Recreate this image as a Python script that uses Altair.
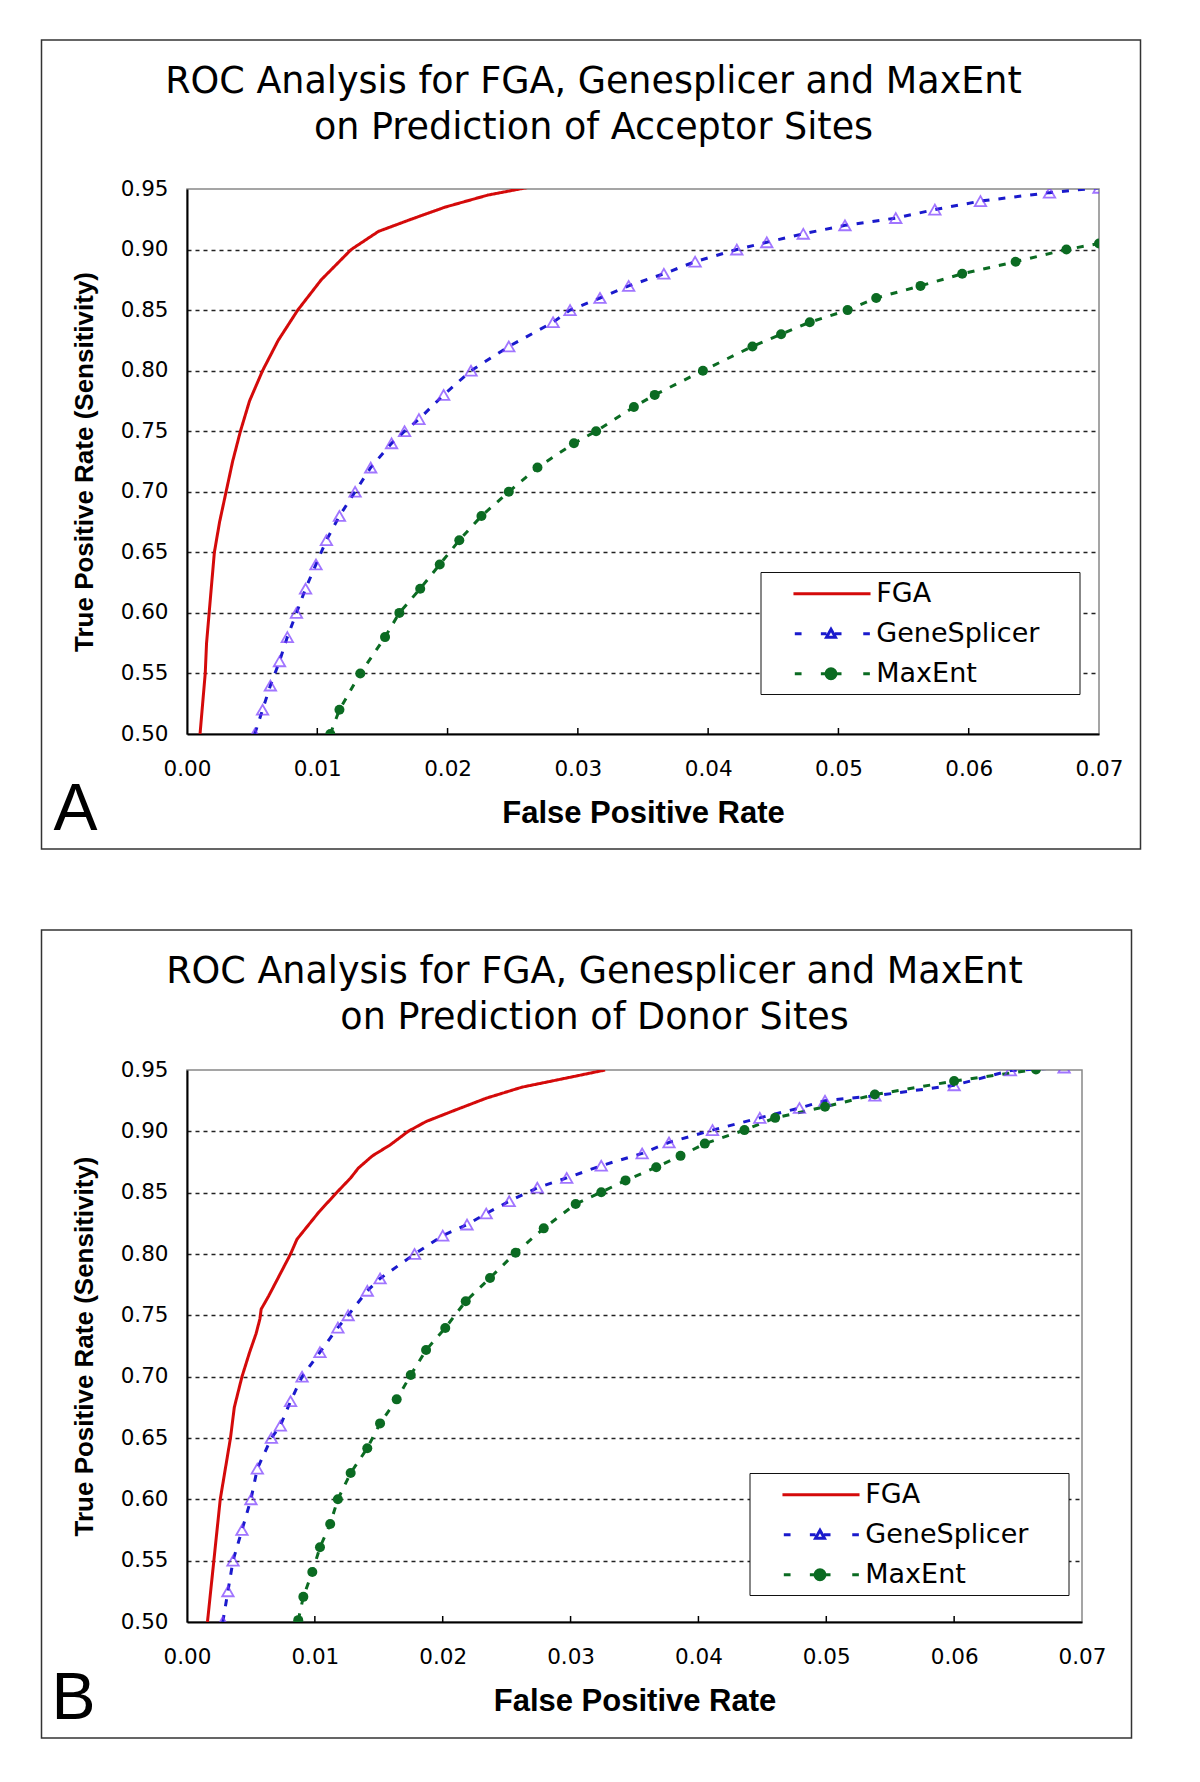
import altair as alt
import pandas as pd

SERIES = ["FGA", "GeneSplicer", "MaxEnt"]
COLORS = ["#d40a0a", "#1a1acc", "#0b6b22"]
DASHES = [[1, 0], [7, 9], [7, 9]]
GS_MARKER = "#7a3cff"

X_TICKS = [0.00, 0.01, 0.02, 0.03, 0.04, 0.05, 0.06, 0.07]
X_INNER_TICKS = [0.01, 0.02, 0.03, 0.04, 0.05, 0.06]
Y_TICKS = [0.50, 0.55, 0.60, 0.65, 0.70, 0.75, 0.80, 0.85, 0.90, 0.95]

TITLE_A = ["ROC Analysis for FGA, Genesplicer and MaxEnt", "on Prediction of Acceptor Sites"]
TITLE_B = ["ROC Analysis for FGA, Genesplicer and MaxEnt", "on Prediction of Donor Sites"]
X_TITLE = "False Positive Rate"
Y_TITLE = "True Positive Rate (Sensitivity)"

# ---- Panel A: acceptor sites ----
ACC_FGA_TPR = [0.50, 0.525, 0.55, 0.575, 0.60, 0.625, 0.65, 0.675, 0.70, 0.725, 0.75, 0.775,
               0.80, 0.825, 0.85, 0.875, 0.90, 0.915, 0.925, 0.935, 0.945, 0.952]
ACC_FGA_FPR = [0.0010, 0.0012, 0.0014, 0.0015, 0.0017, 0.0019, 0.0021, 0.0025, 0.0030, 0.0035,
               0.0041, 0.0048, 0.0058, 0.0070, 0.0085, 0.0103, 0.0126, 0.0147, 0.0172, 0.0198,
               0.0231, 0.0265]
ACC_GS_TPR = [0.50, 0.52, 0.54, 0.56, 0.58, 0.60, 0.62, 0.64, 0.66, 0.68, 0.70, 0.72, 0.74, 0.75,
              0.76, 0.78, 0.80, 0.82, 0.84, 0.85, 0.86, 0.87, 0.88, 0.89, 0.90, 0.906, 0.913,
              0.920, 0.926, 0.933, 0.940, 0.947, 0.951]
ACC_GS_FPR = [0.0052, 0.0058, 0.0064, 0.0071, 0.0077, 0.0084, 0.0091, 0.0099, 0.0107, 0.0117,
              0.0129, 0.0141, 0.0157, 0.0167, 0.0178, 0.0197, 0.0218, 0.0247, 0.0281, 0.0294,
              0.0317, 0.0339, 0.0366, 0.0390, 0.0422, 0.0445, 0.0473, 0.0505, 0.0544, 0.0574,
              0.0609, 0.0662, 0.0700]
ACC_ME_TPR = [0.50, 0.52, 0.55, 0.58, 0.60, 0.62, 0.64, 0.66, 0.68, 0.70, 0.72, 0.74, 0.75, 0.77,
              0.78, 0.80, 0.82, 0.83, 0.84, 0.85, 0.86, 0.87, 0.88, 0.89, 0.90, 0.905]
ACC_ME_FPR = [0.0110, 0.0117, 0.0133, 0.0152, 0.0163, 0.0179, 0.0194, 0.0209, 0.0226, 0.0247,
              0.0269, 0.0297, 0.0314, 0.0343, 0.0359, 0.0396, 0.0434, 0.0456, 0.0478, 0.0507,
              0.0529, 0.0563, 0.0595, 0.0636, 0.0675, 0.0700]

# ---- Panel B: donor sites ----
DON_FGA_TPR = [0.50, 0.55, 0.60, 0.65, 0.675, 0.70, 0.72, 0.735, 0.747, 0.755, 0.766, 0.788,
               0.80, 0.812, 0.834, 0.85, 0.862, 0.870, 0.880, 0.889, 0.90, 0.908, 0.917, 0.927,
               0.936, 0.945, 0.95]
DON_FGA_FPR = [0.0016, 0.0021, 0.0026, 0.0034, 0.0037, 0.0043, 0.0049, 0.0054, 0.0057, 0.0058,
               0.0064, 0.0075, 0.0081, 0.0086, 0.0103, 0.0117, 0.0128, 0.0134, 0.0145, 0.0159,
               0.0173, 0.0187, 0.0209, 0.0234, 0.0262, 0.0304, 0.0327]
DON_GS_TPR = [0.50, 0.525, 0.55, 0.575, 0.60, 0.625, 0.65, 0.66, 0.68, 0.70, 0.72, 0.74, 0.75,
              0.77, 0.78, 0.80, 0.815, 0.824, 0.833, 0.843, 0.854, 0.862, 0.872, 0.882, 0.891,
              0.901, 0.911, 0.919, 0.925, 0.929, 0.9375, 0.9496, 0.952]
DON_GS_FPR = [0.0028, 0.0032, 0.0036, 0.0043, 0.0050, 0.0055, 0.0066, 0.0073, 0.0081, 0.0090,
              0.0104, 0.0118, 0.0126, 0.0141, 0.0151, 0.0178, 0.0200, 0.0219, 0.0234, 0.0252,
              0.0274, 0.0297, 0.0324, 0.0356, 0.0377, 0.0411, 0.0448, 0.0479, 0.0499, 0.0538,
              0.0600, 0.0644, 0.0686]
DON_ME_TPR = [0.5015, 0.5205, 0.5407, 0.5609, 0.5799, 0.6001, 0.6215, 0.6417, 0.6619, 0.6815,
              0.7014, 0.7217, 0.7397, 0.7615, 0.7805, 0.8010, 0.8209, 0.8408, 0.8504, 0.860,
              0.8707, 0.880, 0.890, 0.901, 0.911, 0.920, 0.930, 0.941, 0.9505]
DON_ME_FPR = [0.0087, 0.0091, 0.0098, 0.0104, 0.0112, 0.0118, 0.0128, 0.0141, 0.0151, 0.0164,
              0.0175, 0.0187, 0.0202, 0.0218, 0.0237, 0.0257, 0.0279, 0.0304, 0.0324, 0.0343,
              0.0367, 0.0386, 0.0405, 0.0436, 0.0460, 0.0499, 0.0538, 0.0600, 0.0664]


def build(fprs, tprs):
    rows = []
    for name, fx, ty in zip(SERIES, fprs, tprs):
        for a, b in zip(fx, ty):
            rows.append({"series": name, "fpr": a, "tpr": b})
    return pd.DataFrame(rows)


# legend symbol paths, in units of half the legend symbol width (13.5 px);
# the zero-length segment at the far right only widens the legend box.
_EXT = "M21.07,0L21.07,0"
_DASHES = "M0.93,0H1.43M2.86,0H3.28M3.9,0H4.39M6.0,0H6.49"
LEG_PATHS = [
    _EXT + "M0.83,0H6.54",
    _EXT + _DASHES + "M3.61,-0.33L3.94,0.26L3.28,0.26Z",
    _EXT + _DASHES + "M3.98,0A0.37,0.37,0,1,1,3.24,0A0.37,0.37,0,1,1,3.98,0Z",
]
LEG_FILLS = ["transparent", "white", COLORS[2]]


def panel(df, title_lines, letter, W, H, frame, title_xy, letter_xy, legend_xy):
    x_enc = alt.X("fpr:Q",
                  scale=alt.Scale(domain=[0, 0.07], nice=False, zero=False),
                  axis=alt.Axis(values=X_TICKS, format=".2f", title=X_TITLE, grid=False,
                                ticks=False, labelPadding=24, titlePadding=19,
                                labelFlush=False, labelOverlap=False, titleFontSize=31))
    y_enc = alt.Y("tpr:Q",
                  scale=alt.Scale(domain=[0.5, 0.95], nice=False, zero=False),
                  axis=alt.Axis(values=Y_TICKS, format=".2f", title=Y_TITLE, grid=True,
                                gridOpacity={"condition": {"test": "datum.value > 0.945 || datum.value < 0.505",
                                                           "value": 0}, "value": 1},
                                gridDash=[4, 4], gridColor="#222222", gridWidth=1.3,
                                ticks=False, labelPadding=19, titlePadding=23,
                                labelFlush=False, labelOverlap=False, titleFontSize=26))
    base = alt.Chart(df)
    legend = alt.Legend(
        title=None, orient="none", legendX=legend_xy[0], legendY=legend_xy[1],
        strokeColor="#111111", fillColor="white", padding=6.75, rowPadding=12,
        symbolSize=729, symbolStrokeWidth=3, labelOffset=79, labelLimit=400,
        labelFont="DejaVu Sans", labelFontSize=27, labelColor="black",
    )
    line_layers = [
        base.transform_filter(alt.datum.series == s).mark_line(
            clip=True, strokeWidth=3, color=c, strokeDash=d
        ).encode(x=x_enc, y=y_enc)
        for s, c, d in zip(SERIES, COLORS, DASHES)
    ]
    tri = base.transform_filter(alt.datum.series == SERIES[1]).mark_point(
        shape="triangle-up", filled=False, size=130, strokeWidth=1.8, color=GS_MARKER, clip=True
    ).encode(x=x_enc, y=y_enc)
    dots = base.transform_filter(alt.datum.series == SERIES[2]).mark_point(
        shape="circle", filled=True, size=100, opacity=1, color=COLORS[2], clip=True
    ).encode(x=x_enc, y=y_enc)
    # legend-only layer: one row per series, placed outside the clipped plot area
    leg = alt.Chart(pd.DataFrame({"series": SERIES})).mark_point(
        filled=True, strokeWidth=3, opacity=1, clip=True
    ).encode(
        x=alt.value(-4000), y=alt.value(-4000),
        shape=alt.Shape("series:N", scale=alt.Scale(domain=SERIES, range=LEG_PATHS), legend=legend),
        stroke=alt.Stroke("series:N", scale=alt.Scale(domain=SERIES, range=COLORS), legend=legend),
        fill=alt.Fill("series:N", scale=alt.Scale(domain=SERIES, range=LEG_FILLS), legend=legend),
    )
    inner_ticks = alt.Chart(pd.DataFrame({"fpr": X_INNER_TICKS})).mark_rule(
        color="black", strokeWidth=1.5
    ).encode(x=x_enc, y=alt.value(H - 6), y2=alt.value(H))
    one = pd.DataFrame({"k": [0]})
    box = alt.Chart(one).mark_rect(fillOpacity=0, stroke="#333333", strokeWidth=1.5, clip=False).encode(
        x=alt.value(frame[0]), x2=alt.value(frame[1]), y=alt.value(frame[2]), y2=alt.value(frame[3]))
    title = alt.Chart(one).mark_text(
        align="center", baseline="alphabetic", font="DejaVu Sans", fontSize=36.5,
        lineHeight=46, color="black", clip=False
    ).encode(text=alt.value(title_lines), x=alt.value(title_xy[0]), y=alt.value(title_xy[1]))
    tag = alt.Chart(one).mark_text(
        align="left", baseline="alphabetic", font="Liberation Sans", fontSize=66,
        color="black", clip=False
    ).encode(text=alt.value(letter), x=alt.value(letter_xy[0]), y=alt.value(letter_xy[1]))
    return alt.layer(box, title, tag, *line_layers, tri, dots, inner_ticks, leg).properties(
        width=W, height=H)


df_a = build([ACC_FGA_FPR, ACC_GS_FPR, ACC_ME_FPR], [ACC_FGA_TPR, ACC_GS_TPR, ACC_ME_TPR])
df_b = build([DON_FGA_FPR, DON_GS_FPR, DON_ME_FPR], [DON_FGA_TPR, DON_GS_TPR, DON_ME_TPR])

pa = panel(df_a, TITLE_A, "A", 912, 545, (-145.5, 953.5, -149, 660), (406.5, -96), (-133.5, 641),
           (573.5, 383))
pb = panel(df_b, TITLE_B, "B", 895, 552, (-145.5, 944.5, -140, 668), (407.5, -87), (-135.5, 649),
           (562.5, 403))

chart = alt.vconcat(pa, pb, spacing=77).resolve_scale(
    shape="independent", stroke="independent", fill="independent", x="independent", y="independent"
).resolve_legend(shape="independent", stroke="independent", fill="independent").properties(
    padding={"left": 32, "top": 30, "right": 10, "bottom": 10},
    background="white",
).configure_view(stroke="#888888", strokeWidth=1.5).configure_axis(
    domainColor="black", domainWidth=2, labelColor="black", labelFont="DejaVu Sans",
    labelFontSize=21.5, titleColor="black", titleFont="Liberation Sans", titleFontWeight="bold",
)

chart.save("out.html", embed_options={"renderer": "svg", "actions": False})
